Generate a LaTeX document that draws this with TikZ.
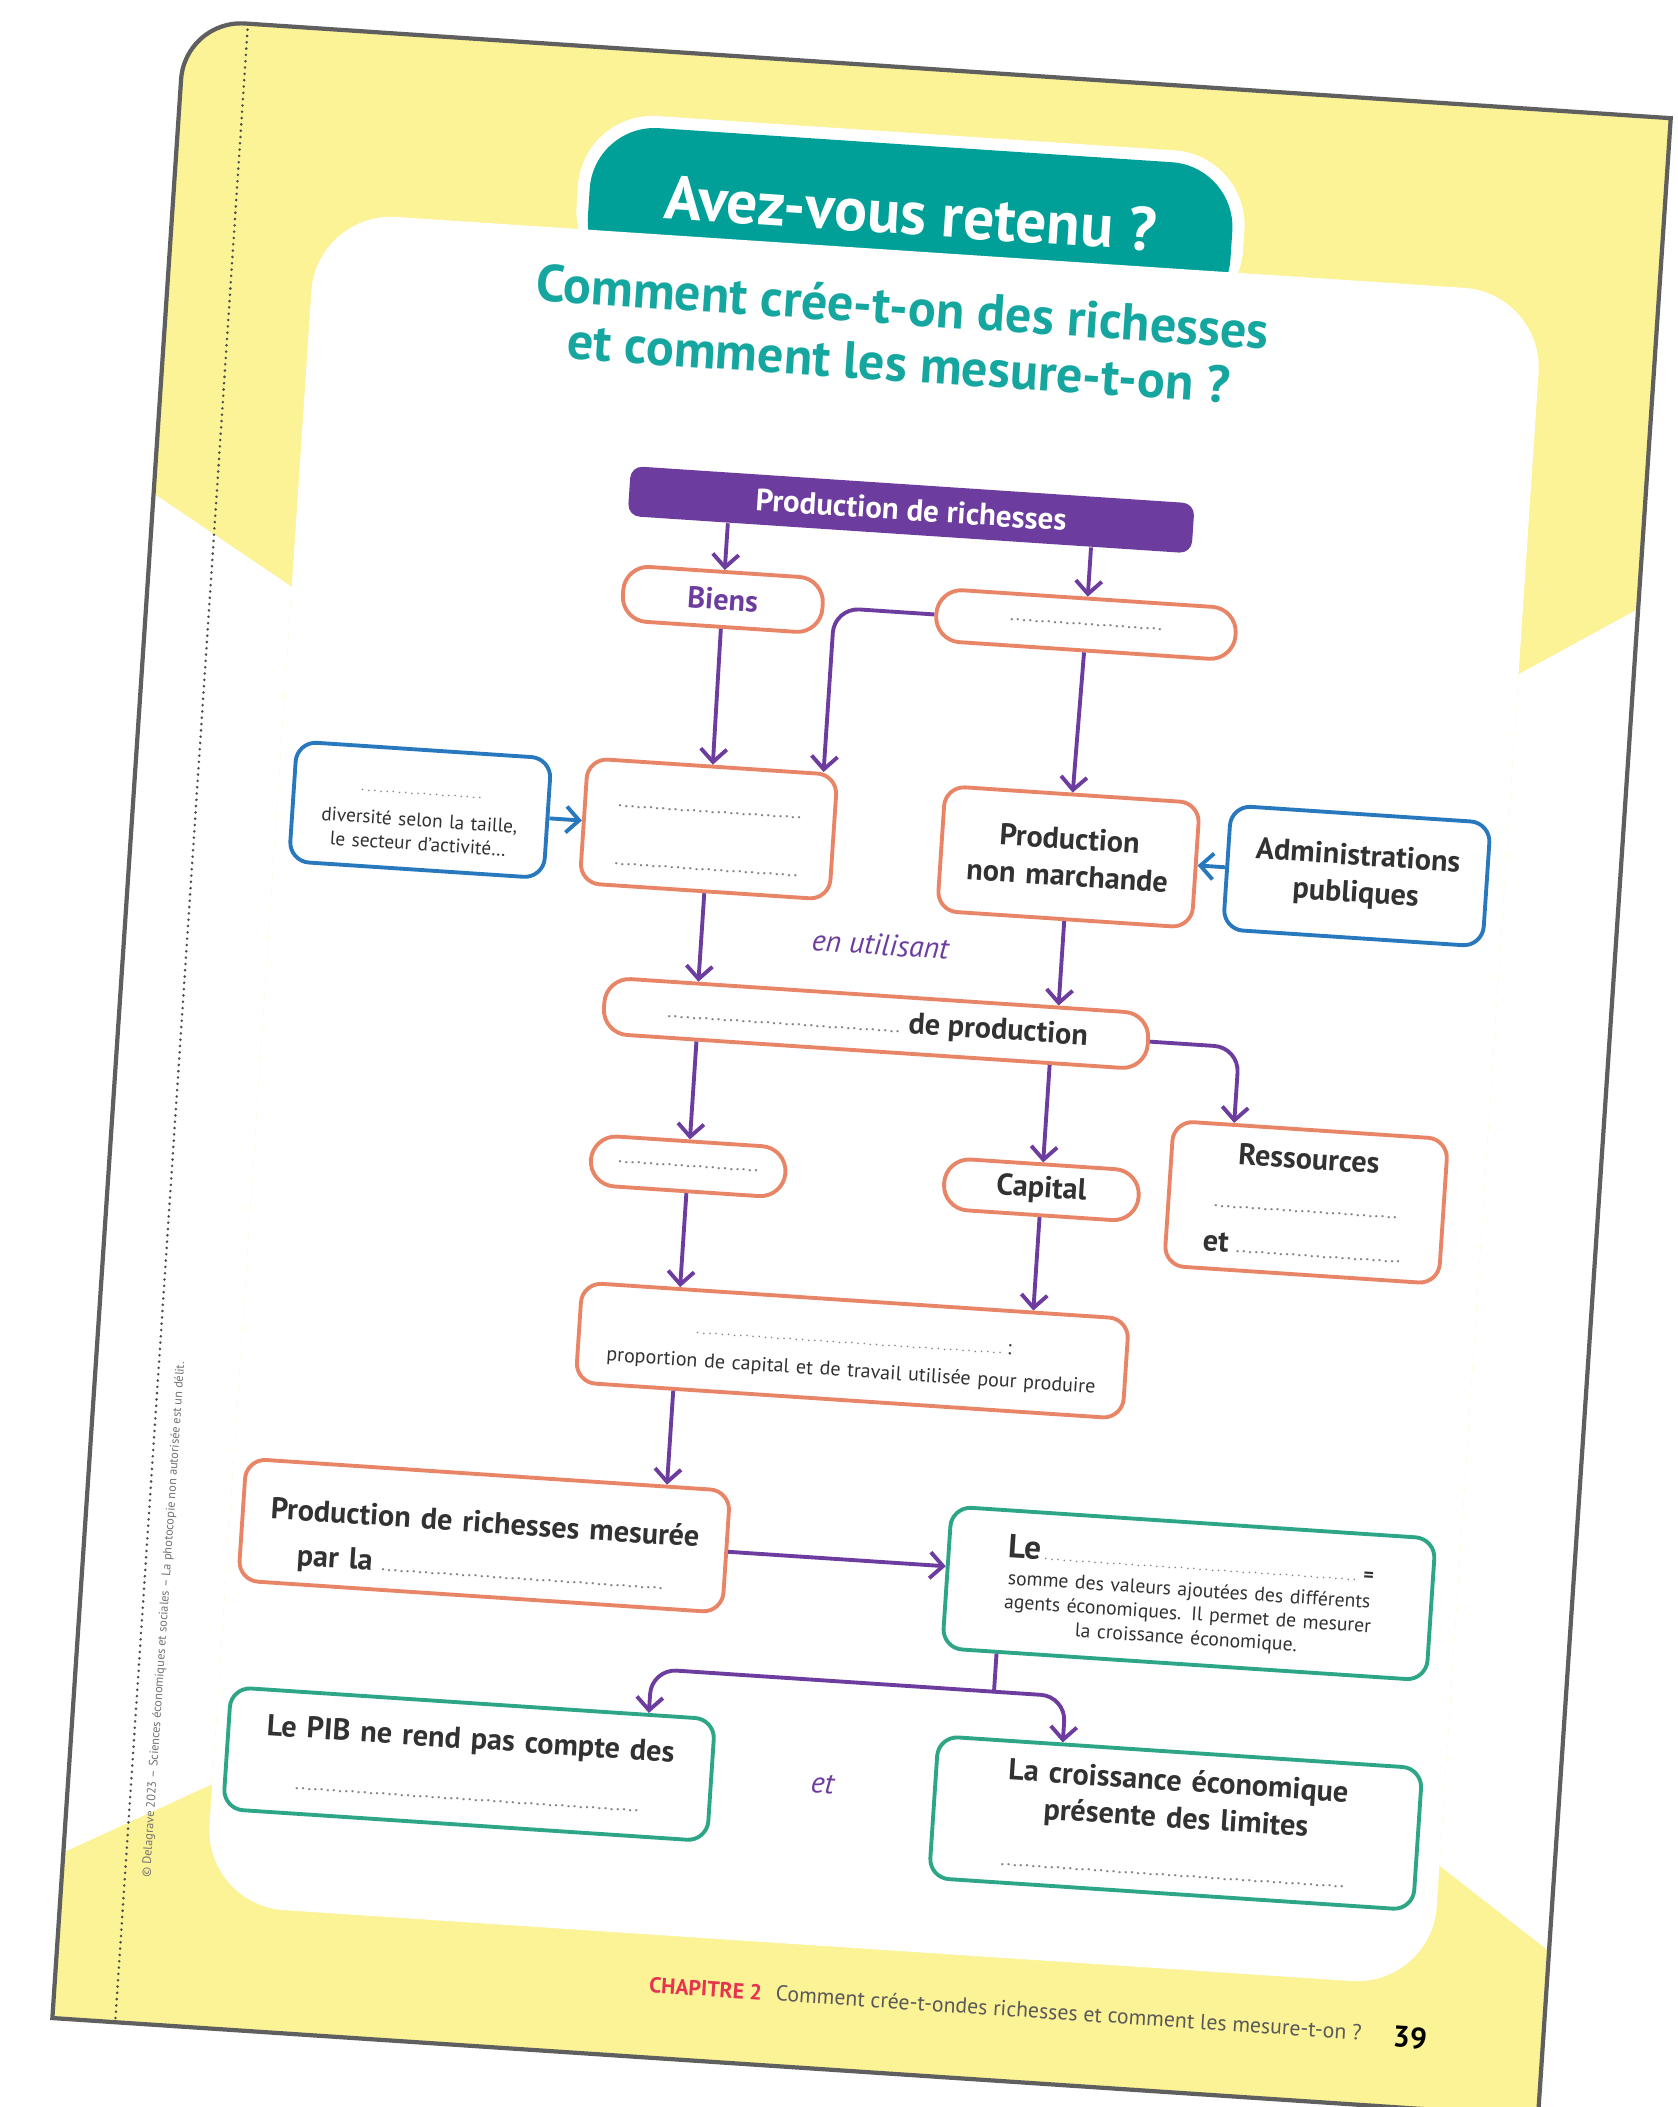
\documentclass[tikz,border=0pt]{standalone}
\usepackage{fontspec}
\setmainfont{PT Sans}
\usetikzlibrary{arrows.meta,calc}

\definecolor{pageyellow}{RGB}{252,242,150}
\definecolor{tabteal}{RGB}{0,160,152}
\definecolor{headteal}{RGB}{22,166,160}
\definecolor{barpurple}{RGB}{108,60,158}
\definecolor{boxorange}{RGB}{233,133,103}
\definecolor{boxblue}{RGB}{40,120,190}
\definecolor{boxgreen}{RGB}{45,165,135}
\definecolor{textgray}{RGB}{50,50,50}
\definecolor{chapred}{RGB}{228,52,80}
\definecolor{pageline}{RGB}{95,95,95}

\newcommand{\gapline}[1]{{\color{black!50}\fontsize{4}{4}\selectfont\makebox[#1]{\dotfill}}}

\begin{document}
\begin{tikzpicture}[x=0.1mm, y=-0.1mm,
    orangebox/.style={draw=boxorange, line width=1.1pt, fill=white, rounded corners=2mm,
      align=center, text=textgray, inner sep=1mm, font=\bfseries\fontsize{8.6}{10.5}\selectfont},
    pillbox/.style={orangebox, rounded corners=2.5mm},
    bluebox/.style={orangebox, draw=boxblue},
    greenbox/.style={orangebox, draw=boxgreen},
    barbox/.style={fill=barpurple, text=white, rounded corners=1.2mm,
      font=\bfseries\fontsize{8.8}{10}\selectfont},
    flowarrow/.style={draw=barpurple, line width=1.1pt, -{Straight Barb[length=1.3mm,width=2.6mm]}},
    blueflow/.style={flowarrow, draw=boxblue},
    linkword/.style={text=barpurple, font=\itshape\fontsize{8.5}{9}\selectfont}]

  \useasboundingbox (0,0) rectangle (1677,2107);
  \fill[white] (0,0) rectangle (1677,2107);
  \clip (0,0) rectangle (1677,2107);

  \begin{scope}[rotate around={-3.8:(838,1053)}, transform shape]

    % Draw page
    \fill[pageyellow] (118,2068) -- (118,125) arc[start angle=180, end angle=270, radius=60]
      -- (1607,65) -- (1607,2068) -- cycle;
    \fill[white] (118,540) -- (262,624) -- (262,1824) -- (118,1902) -- cycle;
    \fill[white] (1607,557) -- (1492,630) -- (1492,1824) -- (1607,1902) -- cycle;

    % Draw tab
    \fill[white, rounded corners=7.5mm] (521,130) rectangle (1189,300);
    \fill[tabteal, rounded corners=6.5mm] (533,142) rectangle (1177,300);
    \node[text=white, font=\bfseries\fontsize{17.5}{20}\selectfont] (tabtitle) at (855,210) {Avez-vous retenu ?};

    % Draw white panel
    \fill[white, rounded corners=8mm] (262,248) rectangle (1492,1945);

    % Draw margin line and credit
    \draw[black!70, line width=0.8pt, line cap=round, dash pattern=on 0pt off 1.8pt] (181,71) -- (181,2066);
    \node[rotate=90, text=black!55, font=\fontsize{3.5}{4}\selectfont] (credit) at (203,1663)
      {© Delagrave 2023 – Sciences économiques et sociales – La photocopie non autorisée est un délit.};

    % Add heading
    \node[align=center, text=headteal, font=\bfseries\fontsize{14.8}{16}\selectfont] (heading) at (853,332)
      {Comment crée-t-on des richesses\\et comment les mesure-t-on ?};

    % Draw boxes
    \node[barbox, minimum width=56.5mm, minimum height=5mm] (bar) at (875,506) {Production de richesses};
    \node[pillbox, text=barpurple, minimum width=20mm, minimum height=5.5mm] (biens) at (693,608) {Biens};
    \node[pillbox, minimum width=30mm, minimum height=5.2mm] (services) at (1057,609) {\gapline{16mm}};
    \node[orangebox, minimum width=25mm, minimum height=12.5mm, text width=23mm] (marchande) at (694,838)
      {\rule{0pt}{2.6mm}\gapline{19mm}\\[2.1mm]\gapline{19mm}};
    \node[bluebox, minimum width=25mm, minimum height=12mm, text width=23.5mm,
      font=\fontsize{5.5}{6.8}\selectfont] (entreprises) at (405,838)
      {\rule{0pt}{2.6mm}\gapline{12.5mm}\\[0.8mm]diversité selon la taille,\\le secteur d’activité…};
    \node[orangebox, minimum width=25mm, minimum height=12.5mm, text width=23.5mm] (nonmarchande) at (1055,842)
      {Production\\non marchande};
    \node[bluebox, minimum width=25.5mm, minimum height=12.4mm, text width=24mm] (admin) at (1344,842)
      {Administrations\\publiques};
    \node[linkword] (enutil) at (873,942) {en utilisant};
    \node[pillbox, minimum width=54.5mm, minimum height=5.6mm] (facteurs) at (874,1021)
      {\gapline{24mm}\,de production};
    \node[pillbox, minimum width=19.5mm, minimum height=5mm] (travail) at (696,1176) {\gapline{14.5mm}};
    \node[pillbox, minimum width=19.5mm, minimum height=5.1mm] (capital) at (1050,1176) {Capital};
    \node[orangebox, minimum width=27.5mm, minimum height=14.5mm, text width=25.5mm,
      font=\bfseries\fontsize{8.6}{12.5}\selectfont] (ressources) at (1315,1171)
      {Ressources\\\gapline{19mm}\\et\,\gapline{17mm}};
    \node[orangebox, minimum width=54.8mm, minimum height=10mm, text width=52.5mm,
      font=\fontsize{5.7}{9.4}\selectfont] (technique) at (872,1349)
      {\rule{0pt}{2.4mm}\gapline{31mm}\,:\\proportion de capital et de travail utilisée pour produire};
    \node[orangebox, minimum width=48.4mm, minimum height=12.2mm, text width=46.5mm,
      font=\bfseries\fontsize{8.6}{12.8}\selectfont] (mesure) at (517,1558)
      {\rule{0pt}{4.5mm}Production de richesses mesurée\\par la\,\gapline{29mm}};
    \node[greenbox, minimum width=48.4mm, minimum height=14.2mm, text width=46.5mm,
      font=\fontsize{5.6}{6.8}\selectfont] (pibdef) at (1224,1569)
      {\rule{0pt}{3.1mm}{\bfseries\fontsize{9.5}{10}\selectfont Le}\gapline{32mm}\,{\bfseries =}\\[0.3mm]somme des valeurs ajoutées des différents\\agents économiques. Il permet de mesurer\\la croissance économique.};
    \node[greenbox, minimum width=48.1mm, minimum height=12.2mm, text width=46.5mm] (pibcrit) at (517,1787)
      {Le PIB ne rend pas compte des\\[1.5mm]\gapline{35mm}};
    \node[linkword] (etlink) at (871,1784) {et};
    \node[greenbox, minimum width=48.4mm, minimum height=14.2mm, text width=46.5mm] (limites) at (1226,1799)
      {La croissance économique\\présente des limites\\[1.2mm]\gapline{35mm}};

    % Bend points
    \coordinate (servbend) at (805,609);
    \coordinate (resbend) at (1238,1021);
    \coordinate (split) at (1036,1680);
    \coordinate (splitl) at (693,1680);
    \coordinate (splitr) at (1108,1680);
    \coordinate (techout) at ($(technique.south west)!(travail.south)!(technique.south east)$);

    % Draw arrows
    \draw[flowarrow] ($(bar.south west)!(biens.north)!(bar.south east)$) -- (biens.north);
    \draw[flowarrow] ($(bar.south west)!(services.north)!(bar.south east)$) -- (services.north);
    \draw[flowarrow] (biens.south) -- (marchande.north);
    \draw[flowarrow, rounded corners=2.5mm] (services.west) -- (servbend)
      -- ($(marchande.north west)!(servbend)!(marchande.north east)$);
    \draw[flowarrow] (services.south) -- (nonmarchande.north);
    \draw[blueflow] (entreprises.east) -- (marchande.west);
    \draw[blueflow] (admin.west) -- (nonmarchande.east);
    \draw[flowarrow] (marchande.south) -- ($(facteurs.north west)!(marchande.south)!(facteurs.north east)$);
    \draw[flowarrow] (nonmarchande.south) -- ($(facteurs.north west)!(nonmarchande.south)!(facteurs.north east)$);
    \draw[flowarrow] ($(facteurs.south west)!(travail.north)!(facteurs.south east)$) -- (travail.north);
    \draw[flowarrow] ($(facteurs.south west)!(capital.north)!(facteurs.south east)$) -- (capital.north);
    \draw[flowarrow, rounded corners=2.5mm] (facteurs.east) -- (resbend)
      -- ($(ressources.north west)!(resbend)!(ressources.north east)$);
    \draw[flowarrow] (travail.south) -- ($(technique.north west)!(travail.south)!(technique.north east)$);
    \draw[flowarrow] (capital.south) -- ($(technique.north west)!(capital.south)!(technique.north east)$);
    \draw[flowarrow] (techout) -- ($(mesure.north west)!(techout)!(mesure.north east)$);
    \draw[flowarrow] (mesure.east) -- ($(pibdef.north west)!(mesure.east)!(pibdef.south west)$);
    \draw[draw=barpurple, line width=1.1pt] ($(pibdef.south west)!(split)!(pibdef.south east)$) -- (split);
    \draw[flowarrow, rounded corners=2.5mm] (split) -- (splitl)
      -- ($(pibcrit.north west)!(splitl)!(pibcrit.north east)$);
    \draw[flowarrow, rounded corners=2.5mm] (split) -- (splitr)
      -- ($(limites.north west)!(splitr)!(limites.north east)$);

    % Add footer
    \node[anchor=base west, text=chapred, font=\bfseries\fontsize{6.2}{7}\selectfont] (chap) at (699,2003) {CHAPITRE 2};
    \node[anchor=base west, text=black!65, font=\fontsize{6.2}{7}\selectfont] (foottitle) at (826,2003)
      {Comment crée-t-ondes richesses et comment les mesure-t-on ?};
    \node[anchor=base, font=\bfseries\fontsize{8.5}{9}\selectfont] (pagenum) at (1474,2008) {39};

    % Draw page edge
    \draw[pageline, line width=1.2pt] (118,2068) -- (118,125) arc[start angle=180, end angle=270, radius=60]
      -- (1607,65) -- (1607,2068) -- cycle;
  \end{scope}
\end{tikzpicture}
\end{document}
